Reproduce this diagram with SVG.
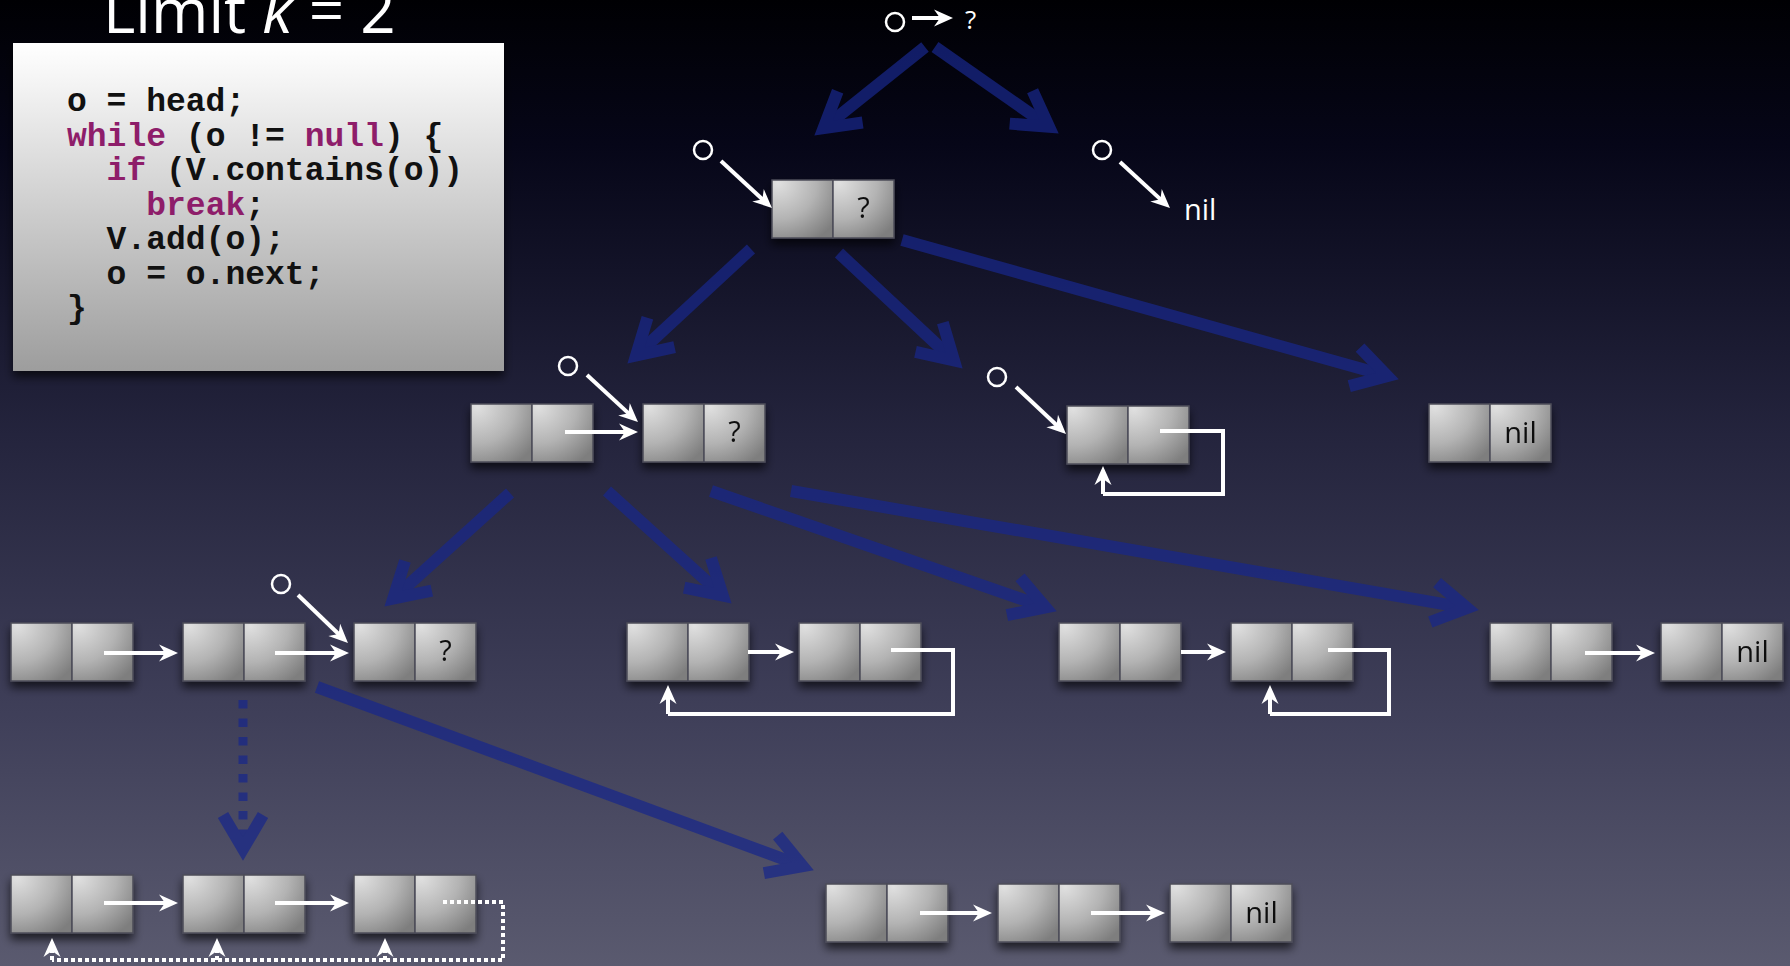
<svg xmlns="http://www.w3.org/2000/svg" width="1790" height="966" viewBox="0 0 1790 966">
  <defs>
    <linearGradient id="bg" x1="0" y1="0" x2="0" y2="1">
      <stop offset="0" stop-color="#000003"/>
      <stop offset="0.15" stop-color="#060618"/>
      <stop offset="0.45" stop-color="#24243d"/>
      <stop offset="0.75" stop-color="#40405a"/>
      <stop offset="1" stop-color="#5a5a6f"/>
    </linearGradient>
    <linearGradient id="codebg" x1="0" y1="0" x2="0" y2="1">
      <stop offset="0" stop-color="#ffffff"/>
      <stop offset="0.12" stop-color="#f4f4f4"/>
      <stop offset="1" stop-color="#9d9d9d"/>
    </linearGradient>
    <radialGradient id="cellfill" cx="0.1" cy="0.05" r="1.15">
      <stop offset="0" stop-color="#e0e0e0"/>
      <stop offset="0.55" stop-color="#b3b3b3"/>
      <stop offset="1" stop-color="#7e7e7e"/>
    </radialGradient>
    <filter id="shadow" x="-20%" y="-20%" width="140%" height="160%">
      <feDropShadow dx="0" dy="6" stdDeviation="5" flood-color="#000" flood-opacity="0.65"/>
    </filter>
    <!-- open chevron head for the thick blue transition arrows -->
    <marker id="chev" markerUnits="userSpaceOnUse" viewBox="-60 -40 80 80" markerWidth="80" markerHeight="80" refX="0" refY="0" orient="auto">
      <path d="M-34,-20 L0,0 L-34,20" fill="none" stroke="#18278a" stroke-width="12" stroke-linejoin="miter"/>
    </marker>
    <!-- filled notched head for white pointer arrows -->
    <marker id="wh" markerUnits="userSpaceOnUse" viewBox="-20 -12 32 24" markerWidth="32" markerHeight="24" refX="0" refY="0" orient="auto">
      <path d="M8,0 L-11,-8.5 L-5,0 L-11,8.5 Z" fill="#ffffff"/>
    </marker>
    <style>
      .cell { fill: url(#cellfill); stroke: #4c4c58; stroke-width: 1.5; }
      .node { filter: url(#shadow); }
      .lbl { font-family: "Open Sans", "Liberation Sans", sans-serif; font-size: 29px; fill: #111; text-anchor: middle; }
      .code { font-family: "Liberation Mono", "DejaVu Sans Mono", monospace; font-weight: bold; font-size: 33px; fill: #111; }
      .kw { fill: #8e1d6a; }
      .blue { fill: none; stroke: #18278a; stroke-width: 12; marker-end: url(#chev); }
      .ptr { fill: none; stroke: #ffffff; stroke-width: 4; marker-end: url(#wh); }
      .loop { fill: none; stroke: #ffffff; stroke-width: 4; }
      .dots { fill: none; stroke: #ffffff; stroke-width: 4; stroke-dasharray: 4 3; }
      .ring { fill: none; stroke: #ffffff; stroke-width: 2.5; }
      .wtxt { font-family: "Open Sans", "Liberation Sans", sans-serif; fill: #ffffff; }
    </style>
  </defs>

  <rect x="0" y="0" width="1790" height="966" fill="url(#bg)"/>

  <!-- title -->
  <text class="wtxt" x="103" y="33" font-size="62">Limit <tspan font-style="italic">k</tspan> = 2</text>

  <!-- code listing -->
  <g id="code">
    <rect x="13" y="43" width="491" height="328" fill="url(#codebg)" filter="url(#shadow)"/>
    <text class="code" xml:space="preserve"><tspan x="67" y="111">o = head;</tspan><tspan x="67" y="146"><tspan class="kw">while</tspan> (o != <tspan class="kw">null</tspan>) {</tspan><tspan x="67" y="180">  <tspan class="kw">if</tspan> (V.contains(o))</tspan><tspan x="67" y="215">    <tspan class="kw">break</tspan>;</tspan><tspan x="67" y="249">  V.add(o);</tspan><tspan x="67" y="284">  o = o.next;</tspan><tspan x="67" y="318">}</tspan></text>
  </g>

  <!-- transitions between abstract heaps -->
  <g id="transitions" opacity="0.72">
    <line class="blue" x1="925" y1="47" x2="823.6" y2="128.1"/>
    <line class="blue" x1="935" y1="47" x2="1049" y2="126.7"/>
    <line class="blue" x1="751" y1="249" x2="636.1" y2="355.5"/>
    <line class="blue" x1="839" y1="253" x2="954" y2="360.5"/>
    <line class="blue" x1="902" y1="240" x2="1387.4" y2="376"/>
    <line class="blue" x1="510" y1="493" x2="393.2" y2="598.6"/>
    <line class="blue" x1="607" y1="491" x2="722.8" y2="595.6"/>
    <line class="blue" x1="711" y1="491" x2="1045.6" y2="607.4"/>
    <line class="blue" x1="791" y1="491" x2="1467.2" y2="608.1"/>
    <line class="blue" x1="317" y1="687" x2="802.7" y2="866.2"/>
    <line x1="243" y1="700" x2="243" y2="849" fill="none" stroke="#18278a" stroke-width="9" stroke-dasharray="8.5 10" marker-end="url(#chev)"/>
  </g>

  <!-- heap nodes -->
  <g id="node-A" class="node" transform="translate(772,180)">
    <rect class="cell" x="0" y="0" width="61" height="58"/><rect class="cell" x="61" y="0" width="61" height="58"/>
    <text class="lbl" x="91.5" y="38">?</text>
  </g>
  <g id="node-B1" class="node" transform="translate(471,404)">
    <rect class="cell" x="0" y="0" width="61" height="58"/><rect class="cell" x="61" y="0" width="61" height="58"/>
  </g>
  <g id="node-B2" class="node" transform="translate(643,404)">
    <rect class="cell" x="0" y="0" width="61" height="58"/><rect class="cell" x="61" y="0" width="61" height="58"/>
    <text class="lbl" x="91.5" y="38">?</text>
  </g>
  <g id="node-C" class="node" transform="translate(1067,406)">
    <rect class="cell" x="0" y="0" width="61" height="58"/><rect class="cell" x="61" y="0" width="61" height="58"/>
  </g>
  <g id="node-D" class="node" transform="translate(1429,404)">
    <rect class="cell" x="0" y="0" width="61" height="58"/><rect class="cell" x="61" y="0" width="61" height="58"/>
    <text class="lbl" x="91.5" y="39">nil</text>
  </g>
  <g id="node-E1" class="node" transform="translate(11,623)">
    <rect class="cell" x="0" y="0" width="61" height="58"/><rect class="cell" x="61" y="0" width="61" height="58"/>
  </g>
  <g id="node-E2" class="node" transform="translate(183,623)">
    <rect class="cell" x="0" y="0" width="61" height="58"/><rect class="cell" x="61" y="0" width="61" height="58"/>
  </g>
  <g id="node-E3" class="node" transform="translate(354,623)">
    <rect class="cell" x="0" y="0" width="61" height="58"/><rect class="cell" x="61" y="0" width="61" height="58"/>
    <text class="lbl" x="91.5" y="38">?</text>
  </g>
  <g id="node-F1" class="node" transform="translate(627,623)">
    <rect class="cell" x="0" y="0" width="61" height="58"/><rect class="cell" x="61" y="0" width="61" height="58"/>
  </g>
  <g id="node-F2" class="node" transform="translate(799,623)">
    <rect class="cell" x="0" y="0" width="61" height="58"/><rect class="cell" x="61" y="0" width="61" height="58"/>
  </g>
  <g id="node-G1" class="node" transform="translate(1059,623)">
    <rect class="cell" x="0" y="0" width="61" height="58"/><rect class="cell" x="61" y="0" width="61" height="58"/>
  </g>
  <g id="node-G2" class="node" transform="translate(1231,623)">
    <rect class="cell" x="0" y="0" width="61" height="58"/><rect class="cell" x="61" y="0" width="61" height="58"/>
  </g>
  <g id="node-H1" class="node" transform="translate(1490,623)">
    <rect class="cell" x="0" y="0" width="61" height="58"/><rect class="cell" x="61" y="0" width="61" height="58"/>
  </g>
  <g id="node-H2" class="node" transform="translate(1661,623)">
    <rect class="cell" x="0" y="0" width="61" height="58"/><rect class="cell" x="61" y="0" width="61" height="58"/>
    <text class="lbl" x="91.5" y="39">nil</text>
  </g>
  <g id="node-I1" class="node" transform="translate(11,875)">
    <rect class="cell" x="0" y="0" width="61" height="58"/><rect class="cell" x="61" y="0" width="61" height="58"/>
  </g>
  <g id="node-I2" class="node" transform="translate(183,875)">
    <rect class="cell" x="0" y="0" width="61" height="58"/><rect class="cell" x="61" y="0" width="61" height="58"/>
  </g>
  <g id="node-I3" class="node" transform="translate(354,875)">
    <rect class="cell" x="0" y="0" width="61" height="58"/><rect class="cell" x="61" y="0" width="61" height="58"/>
  </g>
  <g id="node-J1" class="node" transform="translate(826,884)">
    <rect class="cell" x="0" y="0" width="61" height="58"/><rect class="cell" x="61" y="0" width="61" height="58"/>
  </g>
  <g id="node-J2" class="node" transform="translate(998,884)">
    <rect class="cell" x="0" y="0" width="61" height="58"/><rect class="cell" x="61" y="0" width="61" height="58"/>
  </g>
  <g id="node-J3" class="node" transform="translate(1170,884)">
    <rect class="cell" x="0" y="0" width="61" height="58"/><rect class="cell" x="61" y="0" width="61" height="58"/>
    <text class="lbl" x="91.5" y="39">nil</text>
  </g>

  <!-- variable o and free-standing labels -->
  <g id="vars">
    <circle class="ring" cx="895" cy="22" r="9"/>
    <text class="wtxt" x="965" y="29" font-size="26">?</text>
    <circle class="ring" cx="703" cy="150" r="9"/>
    <circle class="ring" cx="1102" cy="150" r="9"/>
    <text class="wtxt" x="1184" y="220" font-size="29">nil</text>
    <circle class="ring" cx="568" cy="366" r="9"/>
    <circle class="ring" cx="997" cy="377" r="9"/>
    <circle class="ring" cx="281" cy="584" r="9"/>
  </g>

  <!-- pointer edges -->
  <g id="pointers">
    <line class="ptr" x1="912" y1="18" x2="945" y2="18"/>
    <line class="ptr" x1="721" y1="161" x2="766.1" y2="202.6"/>
    <line class="ptr" x1="1120" y1="162" x2="1164.1" y2="202.6"/>
    <line class="ptr" x1="587" y1="375" x2="632.1" y2="416.6"/>
    <line class="ptr" x1="565" y1="432" x2="630" y2="432"/>
    <line class="ptr" x1="1016" y1="387" x2="1060.2" y2="428.5"/>
    <path class="loop" d="M1160,431 H1223 V494 H1103"/>
    <line class="ptr" x1="1103" y1="494" x2="1103" y2="474"/>

    <line class="ptr" x1="104" y1="653" x2="170" y2="653"/>
    <line class="ptr" x1="275" y1="653" x2="341" y2="653"/>
    <line class="ptr" x1="298" y1="595" x2="342.2" y2="637.5"/>
    <line class="ptr" x1="748" y1="652" x2="786" y2="652"/>
    <path class="loop" d="M891,650 H953 V714 H668"/>
    <line class="ptr" x1="668" y1="714" x2="668" y2="693"/>
    <line class="ptr" x1="1181" y1="652" x2="1218" y2="652"/>
    <path class="loop" d="M1328,650 H1389 V714 H1270"/>
    <line class="ptr" x1="1270" y1="714" x2="1270" y2="693"/>
    <line class="ptr" x1="1585" y1="653" x2="1647" y2="653"/>

    <line class="ptr" x1="104" y1="903" x2="170" y2="903"/>
    <line class="ptr" x1="275" y1="903" x2="341" y2="903"/>
    <path class="dots" d="M443,902 H503 V960 H52"/>
    <line class="dots" x1="52" y1="960" x2="52" y2="946" marker-end="url(#wh)"/>
    <line class="dots" x1="217" y1="960" x2="217" y2="946" marker-end="url(#wh)"/>
    <line class="dots" x1="385" y1="960" x2="385" y2="946" marker-end="url(#wh)"/>

    <line class="ptr" x1="920" y1="913" x2="984" y2="913"/>
    <line class="ptr" x1="1091" y1="913" x2="1157" y2="913"/>
  </g>
</svg>
